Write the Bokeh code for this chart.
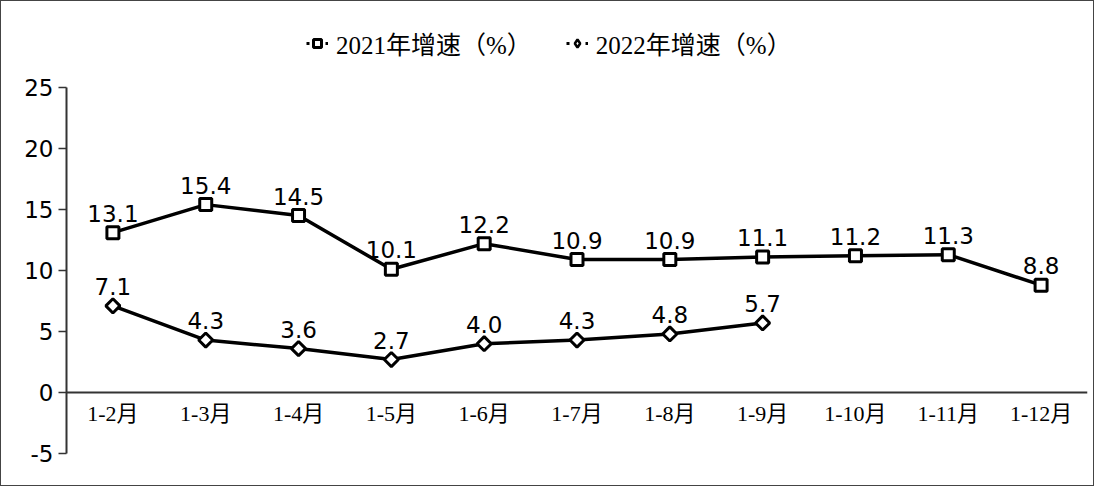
import math
from bokeh.plotting import figure
from bokeh.models import FixedTicker, Span, Legend, LegendItem, ColumnDataSource, FactorRange, Range1d
from bokeh.core.properties import value
from bokeh.embed import file_html
from bokeh.resources import INLINE

categories = ["1-2月", "1-3月", "1-4月", "1-5月", "1-6月", "1-7月", "1-8月", "1-9月", "1-10月", "1-11月", "1-12月"]
growth_2021 = [13.1, 15.4, 14.5, 10.1, 12.2, 10.9, 10.9, 11.1, 11.2, 11.3, 8.8]
growth_2022 = [7.1, 4.3, 3.6, 2.7, 4.0, 4.3, 4.8, 5.7]
series_names = ["2021年增速（%）", "2022年增速（%）"]
y_ticks = [-5, 0, 5, 10, 15, 20, 25]

SANS = "DejaVu Sans"
SERIF = "'Liberation Serif', 'Noto Sans CJK SC'"
DIAMOND_ANGLE = math.pi / 4

p = figure(width=1094, height=486, output_backend="svg", toolbar_location=None,
           x_range=FactorRange(*categories, range_padding=0), y_range=Range1d(-5, 30),
           min_border_left=65, min_border_right=8, min_border_top=25, min_border_bottom=34)
p.styles = {"border": "1px solid #444"}
p.outline_line_color = None
p.xgrid.visible = False
p.ygrid.visible = False
p.xaxis.visible = False

ya = p.yaxis[0]
ya.bounds = (-5, 25)
ya.ticker = FixedTicker(ticks=y_ticks)
ya.major_label_overrides = {t: str(t) for t in y_ticks}
ya.minor_tick_line_color = None
ya.major_tick_in = 0
ya.major_tick_out = 8
ya.axis_line_width = 2
ya.axis_line_color = "#333333"
ya.major_tick_line_color = "#333333"
ya.major_tick_line_width = 1.5
ya.major_label_text_font = SANS
ya.major_label_text_font_size = "23px"
ya.major_label_text_color = "#000000"
ya.major_label_standoff = 5

p.add_layout(Span(location=0, dimension="width", line_color="#333333", line_width=2))

src21 = ColumnDataSource(dict(x=categories, y=growth_2021, t=[f"{v:.1f}" for v in growth_2021]))
src22 = ColumnDataSource(dict(x=categories[:len(growth_2022)], y=growth_2022, t=[f"{v:.1f}" for v in growth_2022]))

p.line("x", "y", source=src21, line_color="black", line_width=3.5)
p.scatter("x", "y", source=src21, marker="square", size=12, fill_color="white", line_color="black", line_width=3)
p.line("x", "y", source=src22, line_color="black", line_width=3.5)
p.scatter("x", "y", source=src22, marker="square", angle=DIAMOND_ANGLE, size=10, fill_color="white",
          line_color="black", line_width=3)

for s in (src21, src22):
    p.text("x", "y", text="t", source=s, text_align="center", text_baseline="bottom", y_offset=-11,
           text_font=value(SANS), text_font_size="23px", text_color="black")

xl = ColumnDataSource(dict(x=categories, y=[0] * len(categories), t=categories))
p.text("x", "y", text="t", source=xl, text_align="center", text_baseline="top", y_offset=8,
       text_font=value(SERIF), text_font_size="22px", text_color="black")

# legend-only renderers (one hidden point each, NaN y so nothing is drawn in the plot)
nan = float("nan")
l1 = p.line([categories[0]], [nan], line_color="black", line_width=3, line_dash="3 16")
m1 = p.scatter([categories[0]], [nan], marker="square", size=9, fill_color="white", line_color="black", line_width=3)
l2 = p.line([categories[0]], [nan], line_color="black", line_width=3, line_dash="3 16")
m2 = p.scatter([categories[0]], [nan], marker="diamond", size=12, fill_color="white",
               line_color="black", line_width=2.5)
legend = Legend(items=[LegendItem(label=series_names[0], renderers=[l1, m1], index=0),
                       LegendItem(label=series_names[1], renderers=[l2, m2], index=0)],
                orientation="horizontal", location=(240, 392),
                label_text_font=SERIF, label_text_font_size="25px", label_text_color="black",
                glyph_width=22, spacing=34, label_standoff=8,
                border_line_color=None, background_fill_alpha=0, margin=0, padding=8)
p.add_layout(legend)

open("out.html", "w").write(file_html(p, INLINE))
